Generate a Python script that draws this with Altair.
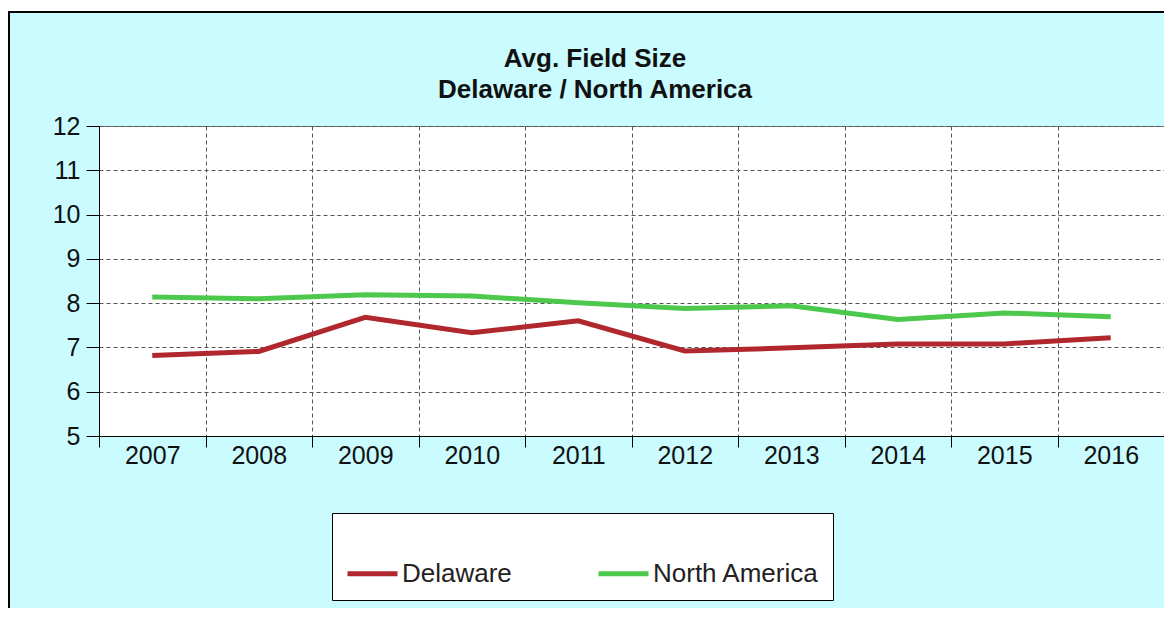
import altair as alt
import pandas as pd

years = ["2007", "2008", "2009", "2010", "2011", "2012", "2013", "2014", "2015", "2016"]
delaware = [6.82, 6.91, 7.68, 7.33, 7.60, 6.92, 6.99, 7.08, 7.08, 7.22]
north_america = [8.14, 8.10, 8.19, 8.16, 8.01, 7.88, 7.94, 7.63, 7.78, 7.69]
series_names = ["Delaware", "North America"]
series_colors = ["#b0282e", "#4cc94c"]
y_ticks = [5, 6, 7, 8, 9, 10, 11, 12]
title_lines = ["Avg. Field Size", "Delaware / North America"]

rows = []
for name, vals in zip(series_names, [delaware, north_america]):
    for yr, v in zip(years, vals):
        rows.append({"year": yr, "value": v, "series": name})
df = pd.DataFrame(rows)

W, H = 1065, 310
FONT = "Liberation Sans"
CYAN = "#c9fbff"

one = pd.DataFrame({"k": [0]})

white_strip = alt.Chart(one).mark_rect(color="white").encode(
    x=alt.value(-91), x2=alt.value(W + 10), y=alt.value(-118), y2=alt.value(-114)
)
top_border = alt.Chart(one).mark_rule(color="black", strokeWidth=2).encode(
    x=alt.value(-91), x2=alt.value(W + 10), y=alt.value(-114)
)
left_border = alt.Chart(one).mark_rule(color="black", strokeWidth=2).encode(
    x=alt.value(-90), y=alt.value(-114), y2=alt.value(H + 200)
)

title1 = alt.Chart(one).mark_text(
    font=FONT, fontSize=26, fontWeight="bold", color="#111", align="center", baseline="alphabetic"
).encode(x=alt.value(496), y=alt.value(-59), text=alt.value(title_lines[0]))
title2 = alt.Chart(one).mark_text(
    font=FONT, fontSize=26, fontWeight="bold", color="#111", align="center", baseline="alphabetic"
).encode(x=alt.value(496), y=alt.value(-28), text=alt.value(title_lines[1]))

lines = alt.Chart(df).mark_line(strokeWidth=5).encode(
    x=alt.X(
        "year:O",
        sort=years,
        bandPosition=0.5,
        scale=alt.Scale(type="band", paddingInner=0, paddingOuter=0),
        axis=alt.Axis(
            title=None,
            tickBand="extent",
            labelAngle=0,
            labelFontSize=25,
            labelFont=FONT,
            labelColor="#111",
            labelPadding=-4,
            tickSize=11,
            tickColor="black",
            domainColor="black",
            grid=True,
            gridDash=[4, 3],
            gridColor="#555",
            gridOpacity=1,
        ),
    ),
    y=alt.Y(
        "value:Q",
        scale=alt.Scale(domain=[5, 12], nice=False, zero=False),
        axis=alt.Axis(
            title=None,
            values=y_ticks,
            labelFontSize=25,
            labelFont=FONT,
            labelColor="#111",
            labelPadding=6,
            tickSize=13,
            tickColor="black",
            domainColor="black",
            grid=True,
            gridDash=[4, 3],
            gridColor="#555",
            gridOpacity=1,
        ),
    ),
    color=alt.Color(
        "series:N",
        scale=alt.Scale(domain=series_names, range=series_colors),
        legend=alt.Legend(
            title=" ",
            titleFontSize=20,
            titlePadding=0,
            orient="none",
            legendX=233,
            legendY=387,
            direction="horizontal",
            symbolType="stroke",
            symbolSize=2500,
            symbolStrokeWidth=5,
            labelFontSize=26,
            labelFont=FONT,
            labelColor="#222",
            labelOffset=2,
            labelLimit=400,
            columnPadding=76,
            padding=13,
            fillColor="white",
            strokeColor="black",
        ),
    ),
)

chart = (
    alt.layer(white_strip, top_border, left_border, title1, title2, lines)
    .properties(
        width=W,
        height=H,
        autosize=alt.AutoSizeParams(type="none"),
        padding={"left": 91, "top": 118, "right": 0, "bottom": 172},
        background=CYAN,
    )
    .configure_view(fill="white", stroke="#777", strokeWidth=1)
)

chart.save("out.html", embed_options={"renderer": "svg", "actions": False})
